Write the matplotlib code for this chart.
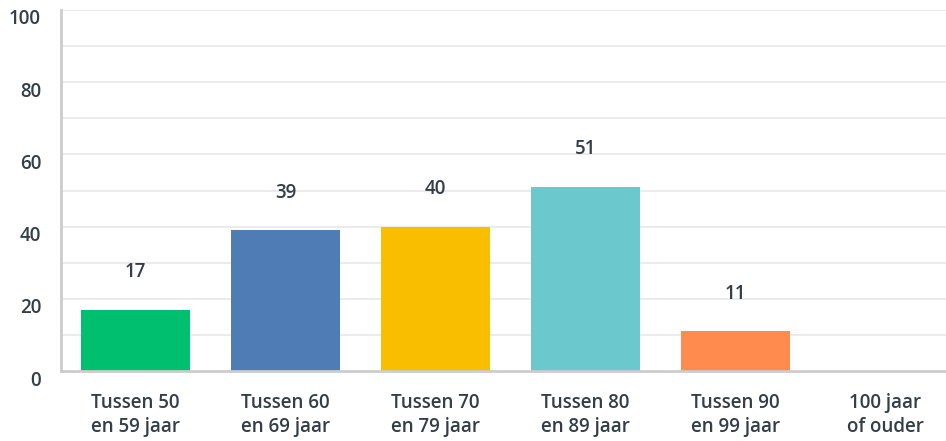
import matplotlib
matplotlib.use("Agg")
import matplotlib.pyplot as plt
import matplotlib.transforms as mtransforms
import numpy as np

# data
categories = ["Tussen 50\nen 59 jaar", "Tussen 60\nen 69 jaar", "Tussen 70\nen 79 jaar",
              "Tussen 80\nen 89 jaar", "Tussen 90\nen 99 jaar", "100 jaar\nof ouder"]
values = [17, 39, 40, 51, 11, 0]
colors = ["#00BF6F", "#507CB6", "#F9BE00", "#6BC8CD", "#FF8B4F", "#9D5BA8"]
yticks = [0, 20, 40, 60, 80, 100]

text_color = "#333E48"
plt.rcParams['font.family'] = ['Open Sans', 'DejaVu Sans']
fs = 13.5

fig = plt.figure(figsize=(9.46, 4.41), dpi=100)
# axes extends past the right edge, like the reference
ax = fig.add_axes([60.5 / 946, 70 / 441, 900 / 946, 361 / 441])

x = np.arange(len(categories))
ax.bar(x, values, width=0.727, color=colors, zorder=3)

# value labels above bars (none for the empty bar)
for xi, v in zip(x, values):
    if v > 0:
        ax.annotate(str(v), (xi, v), xytext=(0, 27), textcoords="offset points",
                    ha="center", va="center", fontsize=fs, fontweight="semibold",
                    color=text_color)

ax.set_xlim(-0.5, 5.5)
ax.set_ylim(0, 100)

# light gridlines every 10
for g in range(10, 101, 10):
    ax.axhline(g, color="#EBEBEB", lw=1.5, zorder=1)

ax.set_yticks(yticks)
ax.set_yticklabels([str(t) for t in yticks], fontsize=fs, fontweight="semibold",
                   color=text_color)
ax.tick_params(axis="y", length=0, pad=14)
offset = mtransforms.ScaledTranslation(0, -7 / 100, fig.dpi_scale_trans)
for lab in ax.get_yticklabels():
    lab.set_transform(lab.get_transform() + offset)

ax.set_xticks(x)
ax.set_xticklabels(categories, fontsize=fs, fontweight="semibold", color=text_color,
                   linespacing=1.25)
ax.tick_params(axis="x", length=0, pad=16)

for s in ["top", "right"]:
    ax.spines[s].set_visible(False)
ax.spines["left"].set_color("#CCCCCC")
ax.spines["left"].set_linewidth(2)
ax.spines["bottom"].set_color("#CCCCCC")
ax.spines["bottom"].set_linewidth(2)
ax.spines["bottom"].set_zorder(4)

fig.savefig("out.png", dpi=100)
